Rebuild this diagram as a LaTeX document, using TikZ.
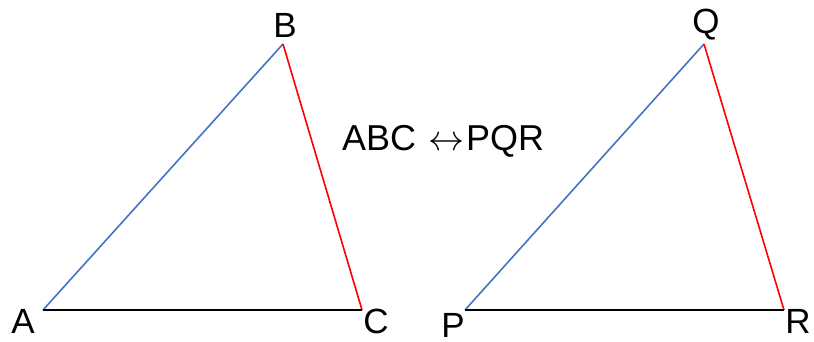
\documentclass[tikz,border=0pt]{standalone}
\usepackage{fontspec}
\setmainfont{Liberation Sans}
\definecolor{offblue}{RGB}{68,114,196}
\begin{document}
\begin{tikzpicture}[x=1pt,y=-1pt,
  lbl/.style={inner sep=0pt,font=\fontsize{35}{40}\selectfont},
  blueline/.style={draw=offblue,line width=1.6pt},
  redline/.style={draw=red,line width=1.6pt},
  blackline/.style={draw=black,line width=1.6pt}]
\useasboundingbox (0,0) rectangle (814,342);
\coordinate (A) at (43,310);
\coordinate (B) at (283,44);
\coordinate (C) at (362,310);
\coordinate (P) at (465,310);
\coordinate (Q) at (704,44);
\coordinate (R) at (784,310);
\draw[blueline] (A) -- (B);
\draw[redline] (B) -- (C);
\draw[blackline] (A) -- (C);
\draw[blueline] (P) -- (Q);
\draw[redline] (Q) -- (R);
\draw[blackline] (P) -- (R);
\node[lbl] (la) at (23,321) {A};
\node[lbl] (lb) at (285,25) {B};
\node[lbl] (lc) at (376,321) {C};
\node[lbl] (lp) at (453,325) {P};
\node[lbl] (lq) at (706,25) {Q};
\node[lbl] (lr) at (798,321) {R};
\node[lbl,font=\fontsize{36}{40}\selectfont,anchor=base west] (t) at (342,150) {ABC\hspace{12pt}\resizebox{36pt}{!}{$\leftrightarrow$}\hspace{2pt}PQR};
\end{tikzpicture}
\end{document}
